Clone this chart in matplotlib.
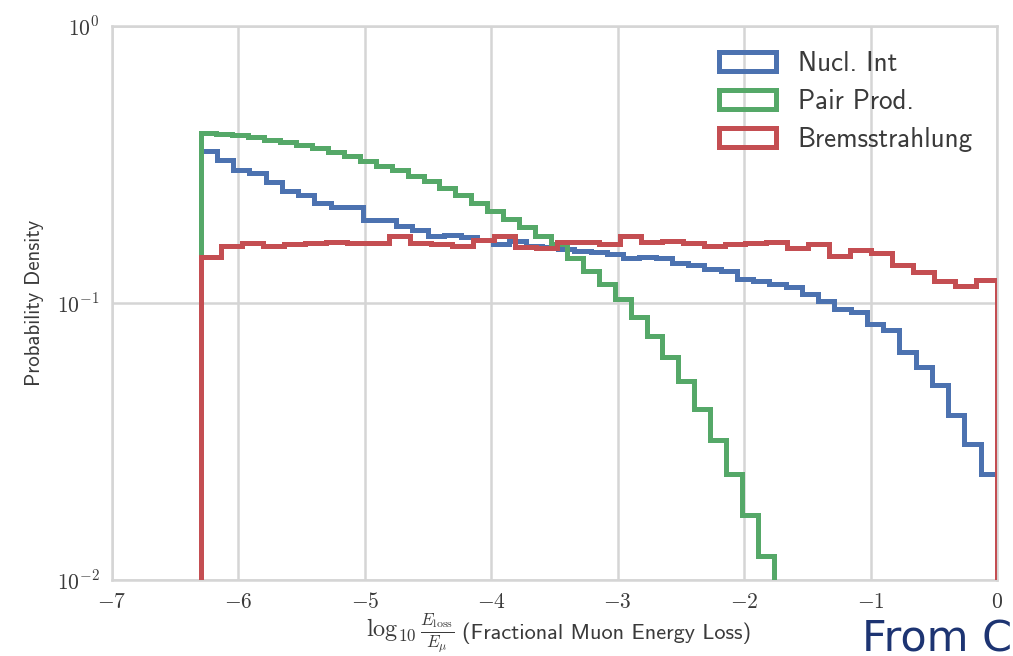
import numpy as np
import matplotlib
matplotlib.use("Agg")
import matplotlib.pyplot as plt
from matplotlib.ticker import LogLocator, NullLocator, MultipleLocator, FuncFormatter

# histogram heights (each series has its own binning)
X_MIN, X_MAX = -6.3, 0.0

NUCL_BINS = 49
nucl_int = [0.355, 0.327, 0.301, 0.294, 0.273, 0.253, 0.245, 0.229, 0.223, 0.223,
            0.200, 0.199, 0.189, 0.184, 0.174, 0.176, 0.173, 0.169, 0.163, 0.167,
            0.161, 0.159, 0.157, 0.154, 0.153, 0.150, 0.145, 0.147, 0.145, 0.140,
            0.137, 0.133, 0.131, 0.122, 0.120, 0.117, 0.114, 0.108, 0.1015, 0.0953,
            0.0926, 0.0841, 0.0796, 0.0664, 0.0587, 0.0504, 0.0393, 0.0310, 0.0242]

PAIR_BINS = 50
# only the bins above the 1e-2 floor are visible
pair_prod = [0.410, 0.408, 0.403, 0.397, 0.389, 0.382, 0.373, 0.362, 0.350, 0.339,
             0.325, 0.313, 0.301, 0.288, 0.275, 0.261, 0.245, 0.229, 0.214, 0.201,
             0.188, 0.175, 0.163, 0.145, 0.131, 0.117, 0.103, 0.0892, 0.0759, 0.0637,
             0.0521, 0.0413, 0.0319, 0.0242, 0.0172, 0.0122]

BREMS_BINS = 38
brems = [0.146, 0.161, 0.164, 0.160, 0.163, 0.164, 0.166, 0.164, 0.165, 0.174,
         0.164, 0.163, 0.161, 0.169, 0.174, 0.159, 0.158, 0.166, 0.166, 0.163,
         0.174, 0.166, 0.167, 0.164, 0.161, 0.163, 0.164, 0.166, 0.158, 0.163,
         0.148, 0.156, 0.151, 0.137, 0.129, 0.120, 0.115, 0.121]

labels = ["Nucl. Int", "Pair Prod.", "Bremsstrahlung"]
colors = ["#4C72B0", "#55A868", "#C44E52"]

plt.rcParams["mathtext.fontset"] = "cm"
SANS = "cmss10"
GREY = "#3a3a3a"

fig = plt.figure(figsize=(10.13, 6.56), dpi=100)
ax = fig.add_axes([112 / 1013, 1 - 580 / 656, (997 - 112) / 1013, (580 - 26) / 656])
ax.set_yscale("log")

series = [(nucl_int, NUCL_BINS), (pair_prod, PAIR_BINS), (brems, BREMS_BINS)]
for (vals, nb), lab, col in zip(series, labels, colors):
    edges = np.linspace(X_MIN, X_MAX, nb + 1)[:len(vals) + 1]
    centers = (edges[:-1] + edges[1:]) / 2
    ax.hist(centers, bins=edges, weights=vals, histtype="step",
            color=col, lw=3.6, label=lab, zorder=3)

ax.set_xlim(-7, 0)
ax.set_ylim(1e-2, 1)
ax.xaxis.set_major_locator(MultipleLocator(1))
ax.xaxis.set_major_formatter(FuncFormatter(lambda v, p: r"$%d$" % round(v)))
ax.yaxis.set_major_locator(LogLocator(base=10))
ax.yaxis.set_major_formatter(FuncFormatter(lambda v, p: r"$10^{%d}$" % round(np.log10(v))))
ax.yaxis.set_minor_locator(NullLocator())

ax.grid(True, color="#d5d5d5", lw=1.8, zorder=0)
ax.set_axisbelow(True)
for sp in ax.spines.values():
    sp.set_color("#d5d5d5")
    sp.set_linewidth(1.8)
ax.tick_params(length=0, labelsize=15.5, labelcolor=GREY, pad=9)

ax.set_ylabel("Probability Density", family=SANS, fontsize=15, color=GREY, labelpad=9)

# x label: math part and text part set separately
fig.text(455 / 1013, 1 - 633 / 656, r"$\log_{10}\frac{E_{\rm loss}}{E_\mu}$",
         fontsize=17.5, color=GREY, ha="right", va="center")
fig.text(462 / 1013, 1 - 633 / 656, "(Fractional Muon Energy Loss)",
         family=SANS, fontsize=16, color=GREY, ha="left", va="center")

leg = ax.legend(loc="upper right", bbox_to_anchor=(1.0, 0.999), frameon=False,
                prop={"family": SANS, "size": 19.5}, handlelength=2.1, handleheight=0.68,
                handletextpad=0.8, labelspacing=0.48)
for t in leg.get_texts():
    t.set_color(GREY)

fig.text(862 / 1013, 1 - 651 / 656, "From C", fontsize=31, family="DejaVu Sans",
         color="#1d3472", va="baseline", ha="left")

fig.savefig("out.png", dpi=100)
